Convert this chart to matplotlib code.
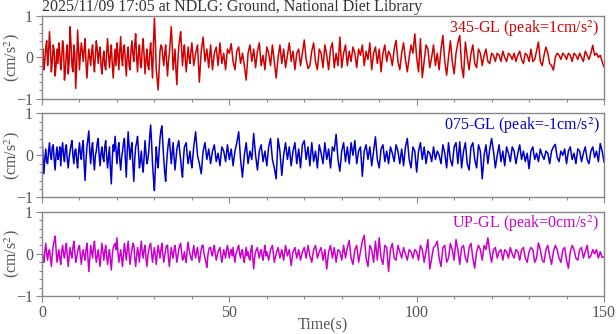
import numpy as np
import matplotlib.pyplot as plt

plt.rcParams["font.family"] = ["Liberation Serif", "DejaVu Serif"]
plt.rcParams["mathtext.fontset"] = "stix"

TITLE = "2025/11/09 17:05 at NDLG: Ground, National Diet Library"
DT = 0.5  # sample spacing (s) of the values

# 345-GL (cm/s^2), one value every 0.5 s from 0 to 150 s
ns_345 = [
    0.05, -0.3, 0.25, -0.2, 0.62, -0.35, 0.3, -0.45, 0.2, 0.35, -0.3, 0.4, -0.55, 0.1, -0.4, 0.74, -0.2, 0.3, -0.75, 0.66,
    -0.3, 0.35, -0.1, 0.45, -0.5, 0.2, -0.2, 0.3, -0.35, 0.4, -0.15, 0.25, -0.4, 0.15, -0.3, 0.45, -0.25, 0.3, -0.5, 0.2,
    0.35, -0.3, 0.5, -0.2, 0.3, -0.45, 0.25, -0.3, 0.4, -0.1, 0.57, -0.35, 0.3, -0.25, 0.45, -0.4, 0.2, -0.3, 0.35, -0.5,
    0.95, -0.3, -0.79, 0.15, 0.25, -0.2, 0.3, -0.45, 0.1, 0.74, -0.3, 0.2, -0.66, 0.25, 0.62, -0.2, 0.3, -0.35, 0.25, -0.15,
    0.35, -0.2, 0.1, 0.3, -0.6, 0.15, 0.49, -0.1, 0.2, -0.25, 0.3, -0.3, 0.1, 0.25, -0.2, 0.35, -0.15, 0.1, -0.3, 0.2,
    0.1, 0.33, -0.1, -0.3, 0.15, 0.25, -0.15, 0.1, -0.2, -0.55, 0.1, 0.3, -0.1, 0.2, -0.25, 0.15, 0.35, -0.2, 0.05, -0.3,
    0.25, 0.1, -0.2, 0.3, -0.1, -0.5, 0.0, 0.3, -0.15, 0.2, -0.25, 0.05, 0.35, -0.1, 0.15, -0.3, 0.1, 0.2, -0.2, 0.1,
    0.42, -0.05, -0.27, -0.2, 0.15, 0.35, -0.1, -0.3, 0.2, 0.1, -0.25, 0.3, 0.05, -0.3, 0.2, 0.35, -0.25, 0.1, -0.2, 0.49,
    -0.25, 0.1, 0.3, -0.2, 0.15, -0.1, 0.25, 0.1, -0.25, 0.2, 0.05, 0.3, -0.2, 0.15, -0.05, 0.35, -0.3, 0.1, 0.25, -0.15,
    0.2, -0.35, 0.1, 0.3, -0.1, 0.15, 0.05, -0.2, 0.2, 0.41, -0.1, -0.3, 0.1, 0.35, -0.05, -0.35, 0.0, 0.3, 0.1, 0.57,
    0.0, -0.35, 0.45, -0.49, -0.1, 0.3, 0.2, -0.25, 0.0, 0.3, -0.2, 0.1, -0.3, 0.2, 0.53, -0.1, -0.43, 0.0, 0.4, -0.1,
    -0.4, 0.1, 0.35, 0.53, -0.2, -0.49, 0.37, 0.0, -0.3, 0.1, 0.3, -0.15, -0.25, 0.2, 0.1, -0.2, 0.05, 0.2, -0.1, -0.15,
    0.1, 0.05, -0.1, 0.1, 0.05, -0.1, 0.15, 0.0, -0.1, 0.1, 0.05, -0.05, 0.1, -0.1, 0.05, 0.15, -0.05, -0.15, 0.1, 0.05,
    -0.1, 0.2, -0.1, -0.05, 0.15, 0.37, -0.1, -0.2, 0.05, 0.25, 0.1, -0.15, -0.2, -0.31, 0.0, 0.1, 0.05, -0.05, 0.1, 0.05,
    -0.05, 0.1, 0.05, -0.1, 0.1, 0.05, -0.05, 0.1, 0.0, -0.1, 0.15, 0.05, -0.05, 0.1, 0.29, 0.05, 0.1, 0.0, 0.05, -0.1,
    -0.23,
]
# extra values read in the dense first 40 s, at 0.25, 0.75, ... s
ns_345_mid = [
    0.2, -0.1, 0.4, 0.1, 0.2, -0.1, 0.15, -0.2, -0.15, 0.1, -0.05, 0.2, -0.3, 0.3, -0.1, 0.3, -0.35, 0.1, -0.2, 0.15,
    0.1, 0.15, 0.2, -0.15, -0.1, 0.0, 0.15, -0.1, 0.05, 0.2, 0.1, -0.2, -0.05, -0.2, 0.1, 0.1, 0.05, -0.15, -0.1, -0.2,
    0.1, 0.15, 0.0, 0.25, -0.1, 0.05, -0.2, 0.15, 0.1, 0.3, 0.0, 0.1, -0.15, 0.2, 0.05, -0.05, -0.2, 0.1, -0.1, 0.3,
    0.4, -0.55, -0.3, 0.3, 0.0, 0.1, -0.1, -0.1, 0.4, 0.3, -0.05, -0.3, -0.1, 0.45, 0.2, 0.1, -0.05, -0.05, 0.0, 0.15,
]

# 075-GL
ew_075 = [
    0.4, -0.44, 0.15, -0.2, 0.3, -0.1, 0.25, -0.35, 0.2, 0.0, -0.25, 0.3, -0.15, 0.25, -0.3, 0.1, 0.35, -0.2, 0.15, -0.3,
    0.3, -0.1, 0.35, -0.6, 0.2, 0.58, -0.2, 0.3, -0.35, 0.1, 0.4, -0.25, 0.2, -0.15, 0.35, -0.3, 0.2, -0.68, 0.25, 0.45,
    -0.2, 0.3, -0.35, 0.1, 0.4, -0.52, 0.56, -0.1, 0.3, -0.62, 0.2, 0.45, -0.3, 0.1, -0.4, 0.35, -0.2, 0.1, 0.72, -0.2,
    -0.84, 0.2, -0.3, 0.4, 0.7, -0.1, -0.62, 0.1, 0.4, -0.2, 0.3, -0.35, 0.15, 0.35, -0.1, -0.52, 0.2, 0.3, -0.2, 0.1,
    -0.3, 0.2, 0.56, 0.0, -0.2, -0.44, 0.1, 0.3, -0.1, 0.15, -0.2, 0.1, 0.25, -0.15, 0.05, -0.25, 0.2, 0.1, -0.15, 0.25,
    -0.1, 0.15, -0.25, 0.1, 0.3, 0.56, -0.1, -0.52, 0.0, 0.3, -0.2, 0.1, -0.1, 0.52, 0.0, -0.35, 0.1, 0.25, -0.15, 0.1,
    -0.25, 0.2, 0.4, -0.1, -0.3, -0.56, 0.4, 0.1, -0.48, 0.0, 0.3, -0.1, 0.2, -0.25, 0.1, 0.3, -0.2, 0.15, -0.3, 0.25,
    0.35, -0.1, 0.2, -0.25, 0.3, -0.15, 0.1, -0.3, 0.25, 0.05, -0.2, 0.3, -0.1, 0.15, -0.3, 0.2, 0.1, 0.5, -0.1, -0.38,
    0.1, 0.3, -0.15, 0.2, -0.2, 0.3, 0.0, 0.35, -0.2, 0.1, 0.2, -0.5, 0.1, 0.25, -0.1, 0.2, -0.25, 0.1, 0.44, -0.1,
    -0.3, 0.15, 0.25, -0.15, 0.1, -0.2, 0.2, 0.05, -0.15, 0.25, 0.1, -0.2, 0.15, -0.25, 0.2, 0.4, -0.1, -0.3, 0.2, 0.1,
    -0.4, 0.1, 0.3, -0.1, 0.2, -0.2, 0.1, 0.05, -0.15, 0.2, -0.1, 0.1, 0.0, -0.2, 0.25, 0.05, -0.3, 0.3, -0.1, -0.25,
    0.2, 0.3, -0.2, 0.32, -0.3, 0.1, 0.3, -0.2, -0.35, 0.2, 0.3, -0.1, -0.3, 0.25, 0.1, -0.56, 0.0, 0.25, -0.2, 0.15,
    0.4, 0.1, -0.3, 0.0, 0.25, -0.15, 0.1, -0.25, 0.2, 0.05, -0.15, 0.2, 0.1, -0.2, 0.05, 0.25, -0.1, 0.1, -0.15, 0.05,
    -0.32, 0.1, 0.2, -0.1, 0.05, -0.15, 0.15, 0.0, -0.1, 0.1, 0.05, -0.2, 0.1, 0.2, 0.26, -0.05, -0.15, 0.1, 0.0, 0.15,
    -0.2, 0.1, 0.2, -0.1, 0.05, -0.2, 0.15, 0.1, -0.15, 0.05, 0.2, -0.1, -0.2, 0.1, 0.2, -0.05, 0.1, -0.15, 0.28, 0.1,
    -0.16,
]
ew_075_mid = [
    0.0, -0.1, -0.15, 0.1, 0.0, 0.2, -0.1, 0.0, -0.1, 0.2, 0.1, 0.0, 0.15, -0.1, -0.05, 0.25, 0.0, 0.1, -0.1, 0.05,
    0.05, 0.2, -0.2, -0.1, 0.4, 0.1, 0.15, -0.1, 0.0, 0.3, 0.0, 0.05, -0.05, 0.2, 0.0, -0.05, -0.3, -0.1, 0.1, 0.15,
    0.1, -0.1, -0.05, 0.3, -0.1, 0.1, 0.2, 0.15, -0.2, -0.1, 0.3, 0.1, -0.15, -0.2, -0.05, 0.05, -0.1, 0.45, 0.3, -0.55,
    -0.3, -0.1, 0.1, 0.6, 0.3, -0.4, -0.2, 0.3, 0.1, 0.05, -0.05, -0.1, 0.25, 0.1, -0.35, -0.1, 0.25, 0.0, -0.05, -0.15,
]

# UP-GL
ud_up = [
    0.1, -0.2, 0.25, -0.15, 0.1, -0.3, 0.2, 0.42, -0.2, 0.1, -0.25, 0.2, -0.1, 0.25, -0.3, 0.15, -0.1, 0.3, -0.2, 0.05,
    0.2, -0.25, 0.1, -0.15, 0.25, -0.42, 0.2, -0.1, 0.3, -0.2, 0.1, -0.3, 0.25, -0.15, 0.2, -0.25, 0.1, -0.38, 0.15, 0.25,
    0.38, -0.2, 0.1, -0.3, 0.25, -0.15, 0.3, -0.25, 0.1, 0.2, -0.3, 0.15, -0.2, 0.3, -0.1, 0.2, -0.3, 0.1, 0.25, -0.2,
    0.15, -0.25, 0.2, -0.1, 0.25, -0.2, 0.1, 0.2, -0.3, 0.15, -0.1, 0.2, -0.2, 0.1, 0.25, -0.15, 0.05, -0.2, 0.28, 0.0,
    -0.15, 0.2, -0.1, 0.15, -0.2, 0.1, 0.2, -0.1, -0.32, 0.1, 0.15, -0.05, 0.2, -0.15, 0.05, 0.15, -0.2, 0.1, -0.1, 0.2,
    -0.1, 0.1, 0.15, -0.2, 0.05, 0.2, -0.1, 0.1, -0.2, 0.15, 0.05, -0.15, 0.2, -0.36, 0.05, 0.15, -0.1, 0.1, -0.15, 0.2,
    0.05, -0.15, 0.1, 0.2, -0.2, 0.0, 0.15, -0.1, 0.1, -0.15, 0.2, -0.05, 0.1, -0.28, 0.05, 0.15, -0.1, 0.1, -0.15, 0.05,
    0.15, -0.1, 0.2, -0.05, -0.2, 0.1, 0.2, -0.1, 0.05, 0.15, -0.15, 0.1, -0.36, 0.05, 0.2, -0.1, 0.15, -0.2, 0.1, 0.05,
    -0.15, 0.2, -0.1, 0.15, 0.32, -0.1, -0.25, 0.1, 0.2, -0.2, 0.05, 0.3, 0.44, -0.1, -0.3, 0.2, 0.1, -0.2, 0.3, -0.15,
    0.38, -0.1, -0.25, 0.2, 0.15, -0.42, 0.1, 0.25, -0.1, -0.15, 0.2, 0.05, -0.1, 0.15, 0.0, -0.15, 0.1, 0.05, -0.1, 0.1,
    0.05, -0.15, 0.2, 0.1, -0.2, 0.05, 0.34, -0.36, -0.1, 0.15, 0.2, 0.3, -0.1, -0.3, 0.15, 0.2, -0.2, -0.1, 0.25, 0.1,
    -0.15, 0.34, 0.1, -0.25, 0.15, 0.2, -0.1, -0.2, 0.15, 0.25, -0.1, -0.34, 0.05, 0.2, 0.1, -0.15, 0.2, 0.1, 0.38, 0.05,
    -0.2, 0.1, 0.15, -0.1, 0.05, 0.1, -0.15, 0.1, 0.05, -0.1, 0.15, 0.0, -0.1, 0.1, 0.05, -0.15, 0.1, 0.15, -0.1, -0.2,
    0.05, 0.15, 0.1, -0.2, -0.1, 0.26, 0.1, -0.15, -0.2, 0.1, 0.2, -0.05, -0.25, 0.05, 0.2, 0.1, -0.1, -0.2, 0.1, 0.15,
    -0.15, -0.34, 0.05, 0.2, 0.1, -0.1, -0.15, 0.1, 0.15, -0.1, 0.05, 0.2, -0.1, -0.05, 0.1, 0.0, 0.1, -0.1, 0.05, -0.08,
    -0.08,
]
# extra values read in the dense first 60 s, at 0.25, 0.75, ... s
ud_up_mid = [
    -0.1, 0.05, 0.0, 0.05, -0.1, 0.0, 0.3, 0.1, -0.05, -0.1, 0.05, 0.0, 0.1, -0.05, -0.05, 0.0, 0.15, 0.05, -0.1, 0.15,
    -0.05, 0.0, -0.05, 0.1, -0.1, -0.1, 0.05, 0.15, 0.0, -0.05, -0.1, 0.0, 0.05, 0.05, -0.05, -0.05, -0.15, -0.05, 0.2, 0.1,
    0.05, -0.05, -0.1, 0.0, 0.05, 0.1, 0.0, -0.05, 0.25, -0.1, -0.05, 0.0, 0.1, 0.05, 0.1, -0.1, -0.05, 0.2, 0.0, 0.0,
    -0.05, 0.0, 0.05, 0.1, 0.0, -0.05, 0.2, -0.1, -0.05, 0.0, 0.1, 0.0, -0.05, 0.2, 0.05, -0.1, -0.1, 0.1, 0.1, -0.1,
    0.05, 0.0, 0.05, -0.05, -0.05, 0.2, 0.0, -0.2, -0.05, 0.15, 0.0, 0.1, 0.0, -0.05, 0.1, -0.05, -0.05, 0.0, 0.1, 0.05,
    0.05, -0.05, -0.05, 0.0, 0.15, 0.0, 0.05, -0.1, 0.0, -0.05, -0.1, 0.1, -0.1, -0.1, 0.1, 0.0, 0.05, -0.05, 0.05, -0.05,
]

components = ["345-GL", "075-GL", "UP-GL"]
peaks = [1, -1, 0]
traces = [(ns_345, ns_345_mid), (ew_075, ew_075_mid), (ud_up, ud_up_mid)]
colors = ["#d00000", "#0000cc", "#cc00cc"]

GRAY = "#555555"
FS = 11.5

fig = plt.figure(figsize=(6.16, 3.34), dpi=100)
W, H = 616, 334
left, right = 42, 604
panels = [(16, 98.7), (113.3, 197.3), (211.7, 296)]

for i, (top, bot) in enumerate(panels):
    ax = fig.add_axes([left / W, 1 - bot / H, (right - left) / W, (bot - top) / H])
    main, mid = traces[i]
    t = np.concatenate([np.arange(len(main)) * DT, DT / 2 + np.arange(len(mid)) * DT])
    y = np.concatenate([main, mid])
    order = np.argsort(t)
    ax.plot(t[order], y[order], color=colors[i], lw=1.1)
    ax.set_xlim(0, 150)
    ax.set_ylim(-1, 1)
    ax.set_yticks([-1, 0, 1])
    ax.set_yticks(np.arange(-1, 1.01, 0.2), minor=True)
    ax.set_xticks([0, 50, 100, 150])
    ax.set_xticks(np.arange(0, 151, 10), minor=True)
    ax.tick_params(which="both", direction="out", colors="#888888", labelcolor=GRAY, labelsize=FS, pad=2)
    ax.tick_params(which="major", length=4.5, width=0.8)
    ax.tick_params(which="minor", length=2.5, width=0.8)
    for s in ax.spines.values():
        s.set_color("#888888")
        s.set_linewidth(1.0)
    if i < 2:
        ax.tick_params(labelbottom=False)
    else:
        ax.set_xlabel("Time(s)", color=GRAY, fontsize=FS, va="top")
        ax.xaxis.set_label_coords(0.5, -0.25)
    ax.set_ylabel("(cm/s$^2$)", color=GRAY, fontsize=FS)
    ax.yaxis.set_label_coords(-0.036, 0.5)
    ax.text(0.992, 0.975, f"{components[i]} (peak={peaks[i]}cm/s$^2$)",
            transform=ax.transAxes, ha="right", va="top", color=colors[i], fontsize=FS)
    if i == 0:
        ax.text(0.0, 1.055, TITLE, transform=ax.transAxes, ha="left", va="baseline",
                color="#333333", fontsize=FS)

fig.savefig("out.png", dpi=100)
